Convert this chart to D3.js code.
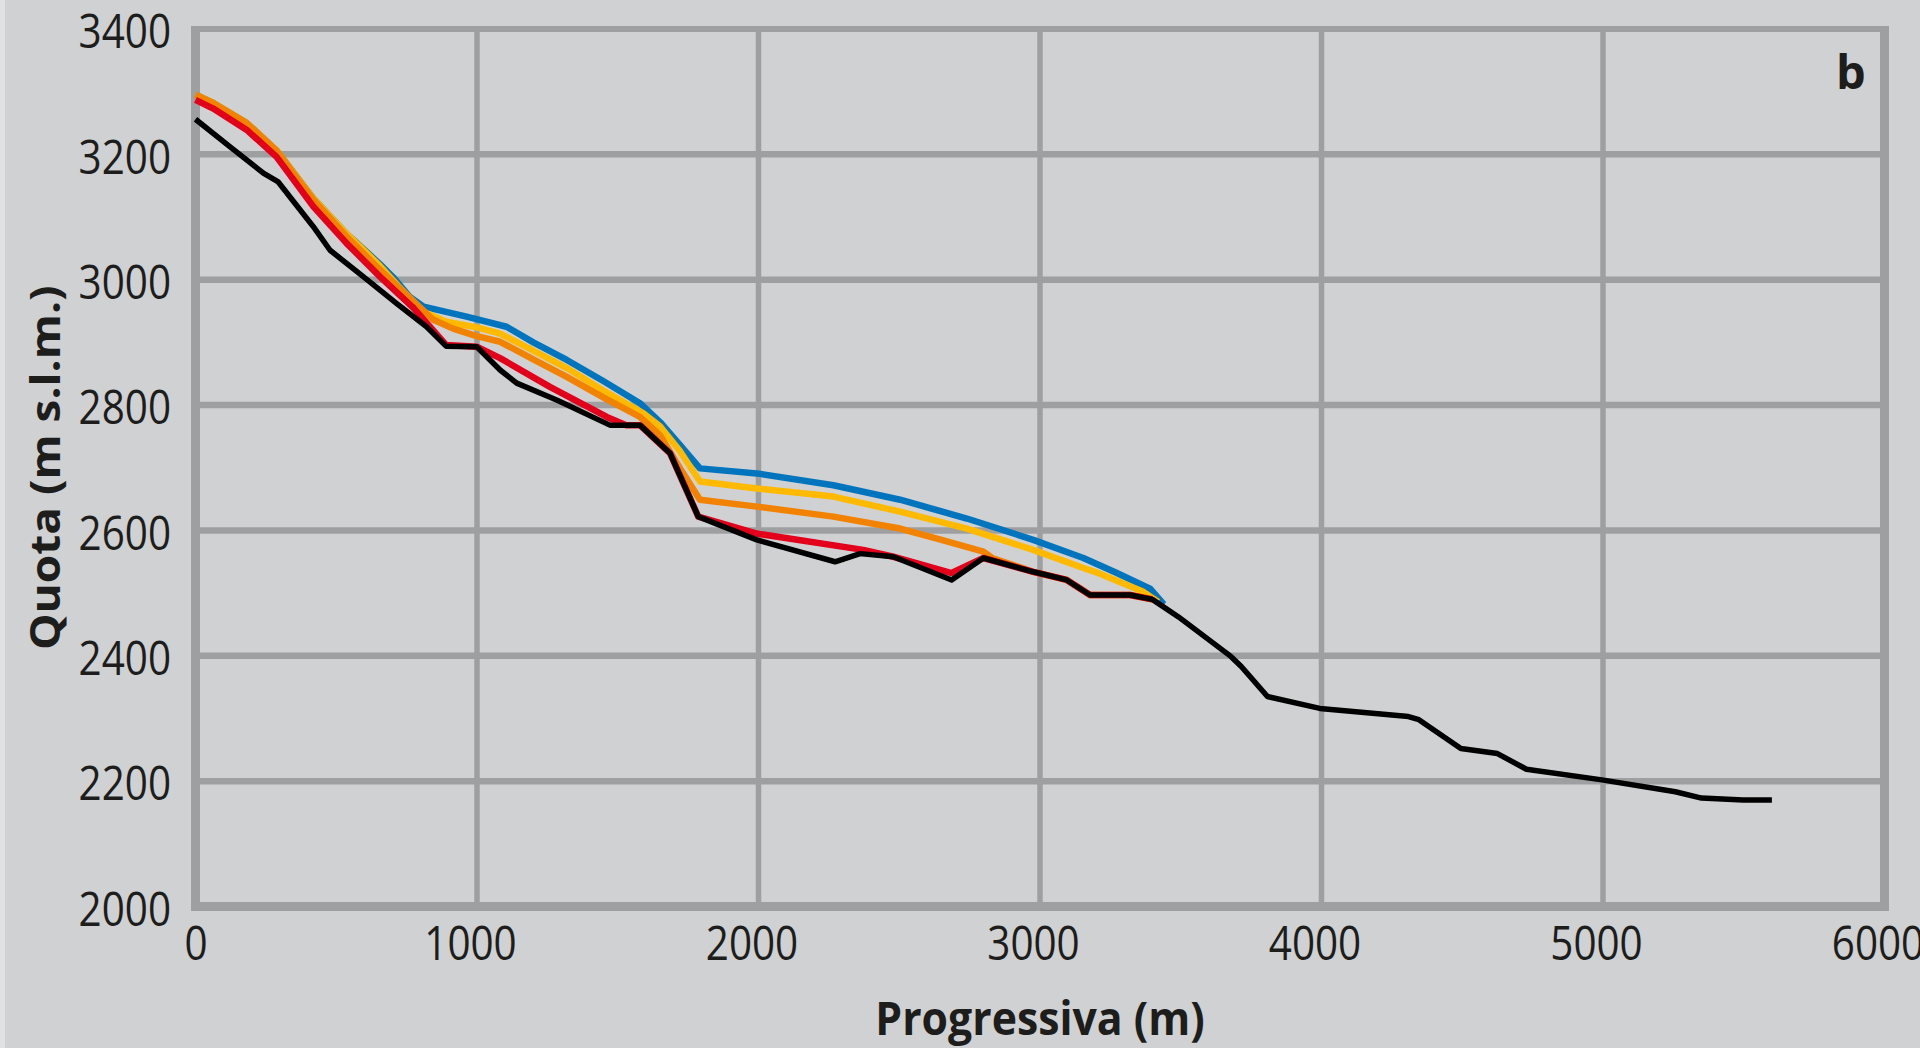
<!DOCTYPE html>
<html><head><meta charset="utf-8">
<script src="https://cdn.jsdelivr.net/npm/d3@7"></script>
<style>html,body{margin:0;padding:0;background:#d0d1d3;overflow:hidden}</style>
</head><body><svg id="c" width="1920" height="1048"></svg>
<script>
const xTicks=[0,1000,2000,3000,4000,5000,6000];
const yTicks=[2000,2200,2400,2600,2800,3000,3200,3400];
const xTitle="Progressiva (m)";
const yTitle="Quota (m s.l.m.)";
const panelLabel="b";

const blue=[[0,3295],[63,3282],[182,3250],[288,3206],[418,3130],[537,3073],[596,3049],[655,3025],[702,3004],[760,2973],[810,2957],[963,2941],[1105,2925],[1200,2900],[1319,2872],[1450,2838],[1579,2803],[1650,2773],[1720,2737],[1792,2699],[1994,2691],[2266,2672],[2503,2649],[2740,2619],[2976,2585],[3154,2556],[3273,2532],[3391,2507],[3440,2482]];
const yellow=[[0,3295],[63,3282],[182,3250],[288,3206],[418,3130],[537,3073],[596,3048],[655,3022],[720,2990],[810,2949],[890,2933],[999,2924],[1082,2914],[1200,2887],[1319,2859],[1450,2823],[1591,2787],[1650,2766],[1720,2727],[1792,2678],[1994,2667],[2266,2654],[2503,2630],[2740,2603],[2976,2569],[3154,2540],[3213,2531],[3367,2502],[3420,2486]];
const orange=[[0,3295],[63,3282],[182,3250],[288,3206],[418,3128],[537,3069],[655,3016],[774,2966],[845,2936],[915,2922],[999,2910],[1082,2901],[1200,2873],[1319,2845],[1450,2812],[1579,2781],[1650,2752],[1720,2700],[1792,2649],[1994,2638],[2266,2622],[2503,2603],[2650,2585],[2799,2566],[2830,2556],[2976,2534],[3095,2521],[3178,2497],[3320,2497],[3399,2490]];
const red=[[0,3287],[63,3273],[182,3239],[288,3196],[418,3117],[537,3058],[655,3005],[774,2955],[890,2896],[999,2893],[1082,2875],[1259,2829],[1461,2781],[1530,2768],[1579,2768],[1686,2723],[1786,2622],[1994,2595],[2372,2569],[2479,2558],[2686,2532],[2799,2556],[2976,2534],[3095,2521],[3178,2497],[3320,2497],[3399,2490]];
const black=[[0,3256],[123,3212],[241,3170],[294,3156],[418,3085],[478,3047],[596,3005],[715,2962],[821,2925],[890,2894],[999,2893],[1082,2856],[1141,2835],[1283,2808],[1472,2768],[1579,2768],[1686,2723],[1786,2622],[1994,2585],[2272,2550],[2361,2563],[2479,2558],[2686,2521],[2799,2556],[2976,2534],[3095,2521],[3178,2497],[3320,2497],[3399,2490],[3492,2462],[3678,2399],[3715,2383],[3808,2335],[3994,2316],[4309,2303],[4346,2298],[4495,2252],[4625,2244],[4728,2219],[4996,2202],[5257,2183],[5350,2173],[5498,2170],[5600,2170]];

const series=[
  {data:blue,color:"#0075be",w:6.5},
  {data:yellow,color:"#ffba00",w:6.5},
  {data:orange,color:"#f28300",w:6.5},
  {data:red,color:"#e2001a",w:6.5},
  {data:black,color:"#000000",w:5.5}
];

const svg=d3.select("#c");
const x=d3.scaleLinear().domain([0,6000]).range([195.5,1884.5]);
const y=d3.scaleLinear().domain([2000,3400]).range([906.5,29]);
const grid="#9e9fa1";
const txt="#1d1d1b";
const font="'Open Sans', 'Noto Sans', sans-serif";
const sx=0.86;

svg.append("rect").attr("x",0).attr("y",0).attr("width",1920).attr("height",1048).attr("fill","#d0d1d3");
svg.append("rect").attr("x",0).attr("y",0).attr("width",5).attr("height",1048).attr("fill","#e0e1e2");

// gridlines
svg.append("g").selectAll("line").data(yTicks.filter(d=>d>2000)).join("line")
  .attr("x1",x(0)).attr("x2",x(6000)).attr("y1",d=>y(d)).attr("y2",d=>y(d))
  .attr("stroke",grid).attr("stroke-width",d=>d===3400?6:6.5);
svg.append("g").selectAll("line").data(xTicks.filter(d=>d>0&&d<6000)).join("line")
  .attr("y1",y(3400)).attr("y2",y(2000)).attr("x1",d=>x(d)).attr("x2",d=>x(d))
  .attr("stroke",grid).attr("stroke-width",5.5);
// frame
const fr=svg.append("g").attr("stroke",grid).attr("stroke-width",9);
fr.append("line").attr("x1",x(0)).attr("x2",x(0)).attr("y1",y(3400)-3).attr("y2",y(2000)+4.5);
fr.append("line").attr("x1",x(6000)).attr("x2",x(6000)).attr("y1",y(3400)-3).attr("y2",y(2000)+4.5);
fr.append("line").attr("x1",x(0)-4.5).attr("x2",x(6000)+4.5).attr("y1",y(2000)).attr("y2",y(2000));

// axes
const ya=svg.append("g").attr("transform",`translate(${x(0)},0)`)
  .call(d3.axisLeft(y).tickValues(yTicks).tickSize(0).tickPadding(24.5/sx).tickFormat(d3.format("d")));
ya.select(".domain").remove();
ya.selectAll("text").attr("font-family",font).attr("font-size",47).attr("fill",txt)
  .attr("transform",`scale(${sx},1)`).attr("dy","0.4em");

const xa=svg.append("g").attr("transform",`translate(0,${y(2000)})`)
  .call(d3.axisBottom(x).tickValues(xTicks).tickSize(0).tickPadding(20).tickFormat(d3.format("d")));
xa.select(".domain").remove();
xa.selectAll("text").attr("font-family",font).attr("font-size",47).attr("fill",txt)
  .attr("transform",d=>`translate(${d===0?0:-7},0) scale(${sx},1)`);

// lines
const line=d3.line().x(d=>x(d[0])).y(d=>y(d[1]));
svg.append("g").selectAll("path").data(series).join("path")
  .attr("d",d=>line(d.data)).attr("fill","none").attr("stroke",d=>d.color)
  .attr("stroke-width",d=>d.w).attr("stroke-linejoin","round").attr("stroke-linecap","butt");

// titles
svg.append("text").attr("transform",`translate(${(x(0)+x(6000))/2},1035) scale(0.93,1)`)
  .attr("text-anchor","middle").attr("font-family",font).attr("font-weight",700)
  .attr("font-size",46).attr("fill",txt).text(xTitle);
svg.append("text").attr("transform",`translate(60,${(y(2000)+y(3400))/2}) rotate(-90) scale(1,0.9)`)
  .attr("text-anchor","middle").attr("font-family",font).attr("font-weight",700)
  .attr("font-size",46).attr("fill",txt).text(yTitle);
svg.append("text").attr("x",1836).attr("y",89).attr("font-family",font).attr("font-weight",700)
  .attr("font-size",47).attr("fill",txt).text(panelLabel);
</script></body></html>
